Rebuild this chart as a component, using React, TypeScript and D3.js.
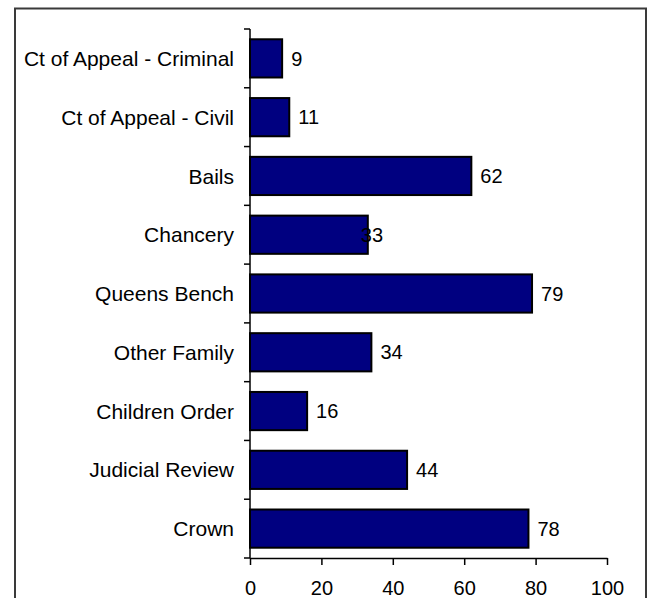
import { useEffect, useRef } from 'react';
import * as d3 from 'd3';

const categories = [
  'Ct of Appeal - Criminal',
  'Ct of Appeal - Civil',
  'Bails',
  'Chancery',
  'Queens Bench',
  'Other Family',
  'Children Order',
  'Judicial Review',
  'Crown',
];
const values = [9, 11, 62, 33, 79, 34, 16, 44, 78];
const xTicks = [0, 20, 40, 60, 80, 100];

export default function App() {
  const svgRef = useRef<SVGSVGElement>(null);

  useEffect(() => {
    if (!svgRef.current) return;
    const W = 648;
    const H = 598;
    const left = 250, right = 607, top = 29, bottom = 558;
    const font = 'Arial, "Liberation Sans", sans-serif';
    const fs = '20px';

    const svg = d3.select(svgRef.current);
    svg.selectAll('*').remove();
    svg.attr('width', W).attr('height', H);

    // outer frame (bottom edge falls outside the picture)
    svg.append('rect')
      .attr('x', 15).attr('y', 8.5)
      .attr('width', 631).attr('height', 620)
      .attr('fill', '#fff')
      .attr('stroke', '#3a3a3a')
      .attr('stroke-width', 2);

    const x = d3.scaleLinear().domain([0, 100]).range([left, right]);
    const y = d3.scaleBand<string>().domain(categories).range([top, bottom]).padding(0);
    const barH = y.bandwidth() * 0.65;

    // bars
    svg.selectAll('.bar')
      .data(categories)
      .enter()
      .append('rect')
      .attr('class', 'bar')
      .attr('x', x(0))
      .attr('y', d => (y(d) as number) + (y.bandwidth() - barH) / 2)
      .attr('width', (d, i) => x(values[i]) - x(0))
      .attr('height', barH)
      .attr('fill', '#000080')
      .attr('stroke', '#000')
      .attr('stroke-width', 2);

    // value labels (the Chancery one sits over its bar end, as in the original)
    svg.selectAll('.val')
      .data(categories)
      .enter()
      .append('text')
      .attr('class', 'val')
      .attr('x', (d, i) => x(values[i]) + (d === 'Chancery' ? -7 : 9))
      .attr('y', d => (y(d) as number) + y.bandwidth() / 2)
      .attr('dy', '0.36em')
      .style('font-family', font)
      .style('font-size', fs)
      .text((d, i) => values[i]);

    // x axis
    const xAxis = svg.append('g')
      .attr('transform', `translate(0,${bottom})`)
      .call(d3.axisBottom(x).tickValues(xTicks).tickSize(7).tickSizeOuter(0).tickPadding(16));
    xAxis.select('.domain').attr('stroke', '#000').attr('stroke-width', 1.5);
    xAxis.selectAll('.tick line').attr('stroke', '#000').attr('stroke-width', 1.5);
    xAxis.selectAll('text')
      .style('font-family', font)
      .style('font-size', fs)
      .attr('fill', '#000');

    // y axis: category ticks at the band edges
    const g = svg.append('g');
    g.append('line')
      .attr('x1', left).attr('x2', left)
      .attr('y1', top).attr('y2', bottom)
      .attr('stroke', '#000').attr('stroke-width', 1.5);
    const edges = categories.map(c => y(c) as number).concat([bottom]);
    g.selectAll('.ytick')
      .data(edges)
      .enter()
      .append('line')
      .attr('x1', left - 6).attr('x2', left)
      .attr('y1', d => d).attr('y2', d => d)
      .attr('stroke', '#000').attr('stroke-width', 1.5);
    g.selectAll('.ylab')
      .data(categories)
      .enter()
      .append('text')
      .attr('x', left - 16)
      .attr('y', d => (y(d) as number) + y.bandwidth() / 2)
      .attr('dy', '0.36em')
      .attr('text-anchor', 'end')
      .style('font-family', font)
      .style('font-size', '21px')
      .text(d => d);
  }, []);

  return <svg ref={svgRef} style={{ position: 'absolute', left: 0, top: 0 }}></svg>;
}
